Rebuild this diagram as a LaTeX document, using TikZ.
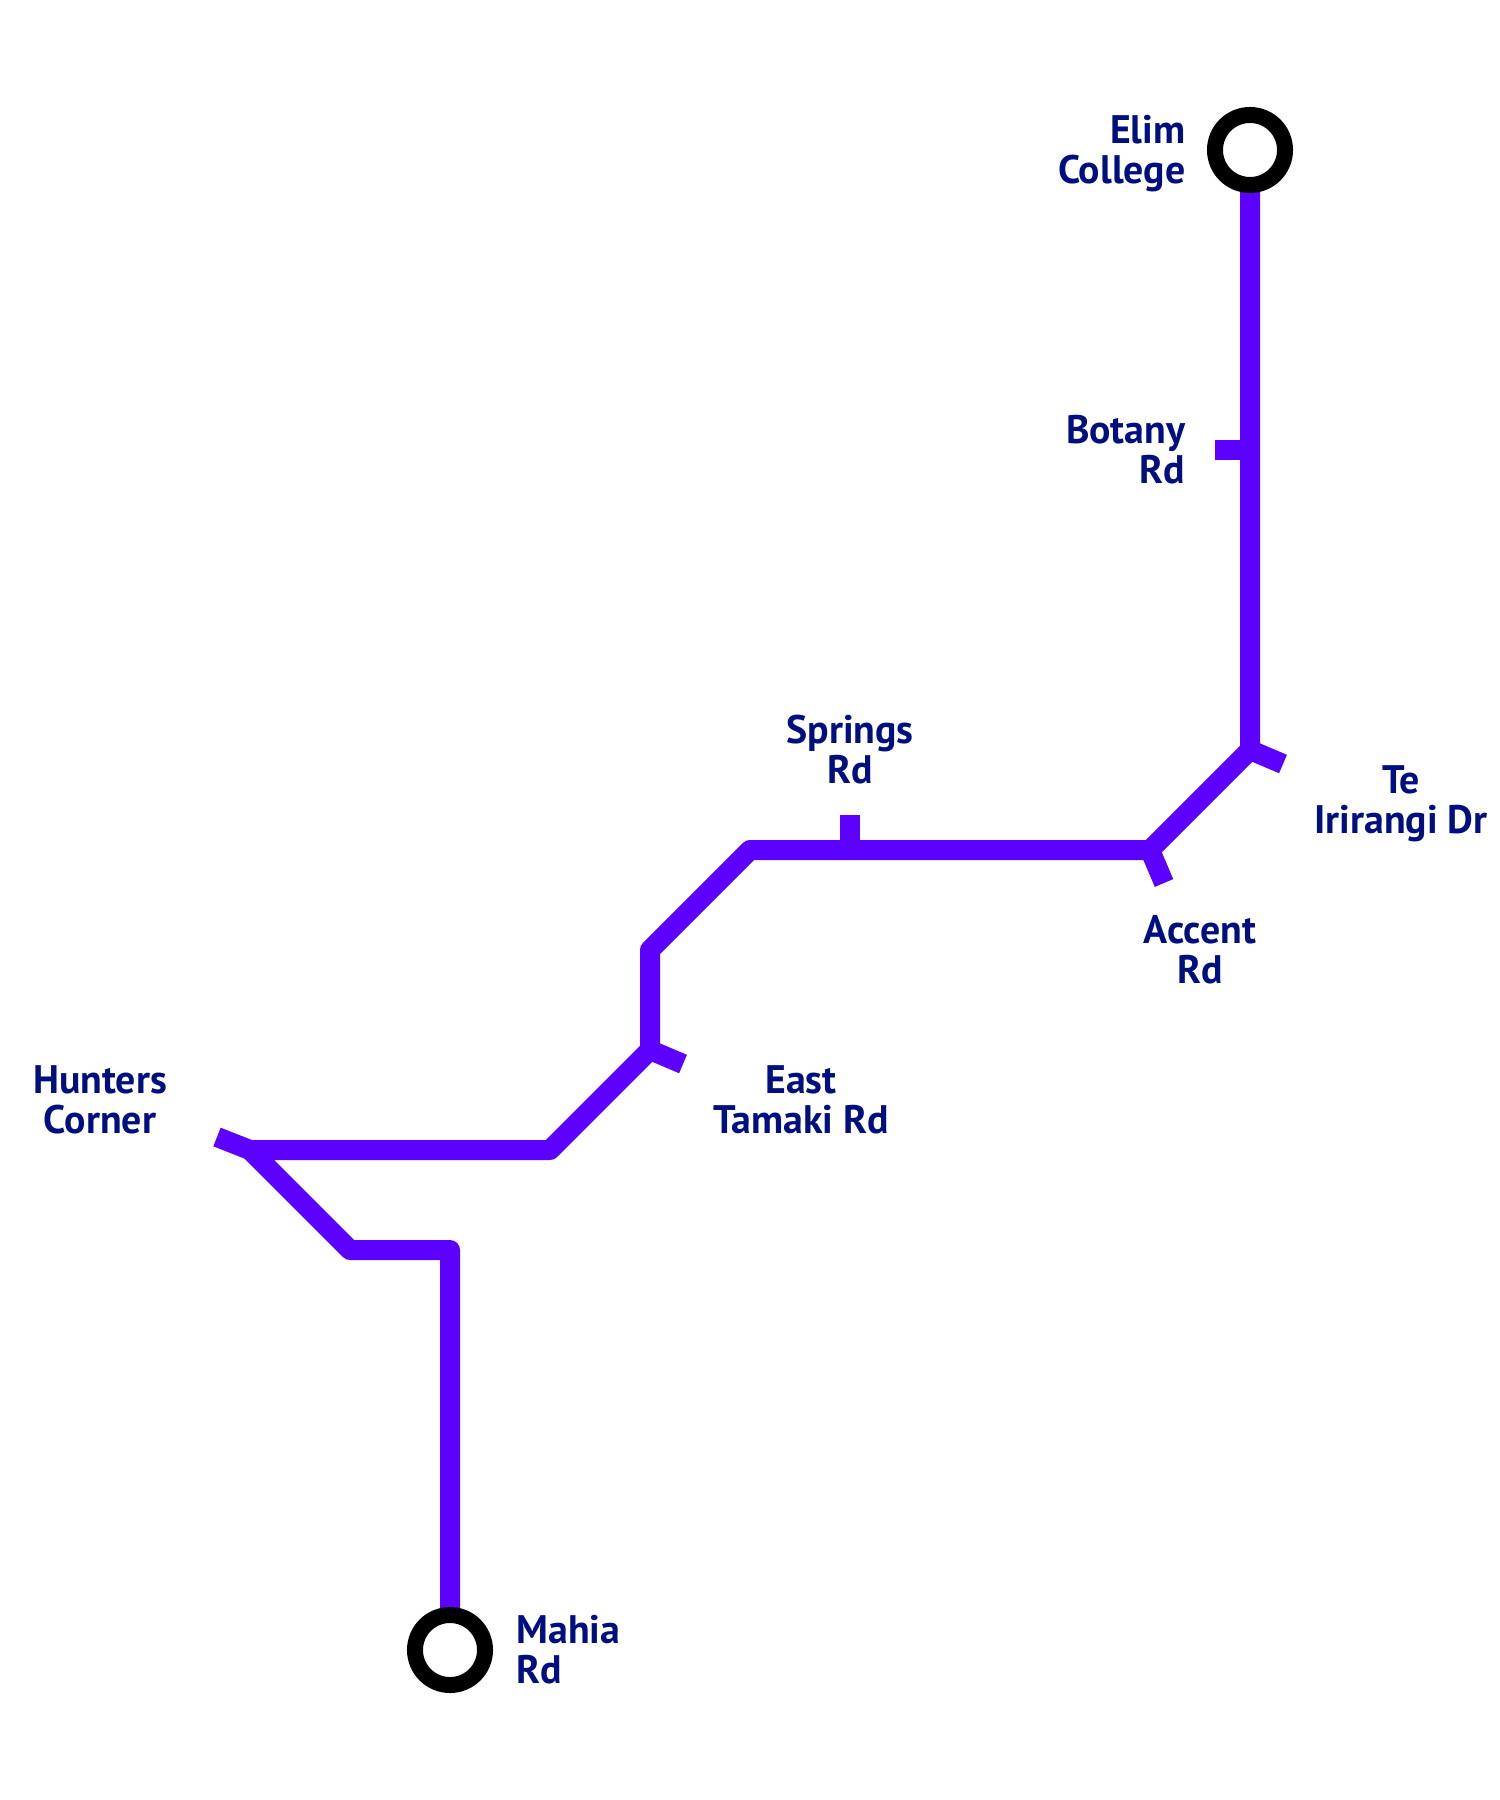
\documentclass[tikz,border=0pt]{standalone}
\usepackage{fontspec}
\usetikzlibrary{backgrounds}
\setmainfont{PT Sans}
\definecolor{linecol}{HTML}{5C00FF}
\definecolor{labelcol}{HTML}{000F80}

\begin{document}
\begin{tikzpicture}[x=0.01cm,y=-0.01cm,
  route/.style={line width=0.2cm,linecol,line join=round},
  term/.style={circle,draw=black,fill=white,line width=0.16cm,minimum size=0.7cm,inner sep=0pt,outer sep=0pt},
  lab/.style={text=labelcol,inner sep=0pt,font=\fontsize{11.32}{11.1}\selectfont\bfseries}]
  \useasboundingbox (0,0) rectangle (1500,1800);
  \coordinate (botany) at (1250,450);
  \coordinate (te) at (1250,750);
  \coordinate (accent) at (1150,850);
  \coordinate (b1) at (750,850);
  \coordinate (springs) at (850,850);
  \coordinate (b2) at (650,950);
  \coordinate (east) at (650,1050);
  \coordinate (b3) at (550,1150);
  \coordinate (hunters) at (250,1150);
  \coordinate (b4) at (350,1250);
  \coordinate (b5) at (450,1250);
  \coordinate (botanyend) at (1215,450);
  \coordinate (teend) at (1283,764);
  \coordinate (accentend) at (1164,883);
  \coordinate (springsend) at (850,815);
  \coordinate (eastend) at (683,1064);
  \coordinate (huntersend) at (217,1137);
  \node[term](elim) at (1250,150){};
  \node[term](mahia) at (450,1650){};
  \begin{scope}[on background layer]
    \draw[route](elim.south)--(te)--(accent)--(b1)--(b2)--(east)--(b3)--(hunters)--(b4)--(b5)--(mahia.north);
    \foreach \x/\y in {botany/botanyend,te/teend,accent/accentend,springs/springsend,east/eastend,hunters/huntersend}{\draw[route](\x)--(\y);}
  \end{scope}
  \node[lab,align=right,anchor=base east](elimlab) at (1186,183){Elim\\College};
  \node[lab,align=right,anchor=base east](botanylab) at (1186,483){Botany\\Rd};
  \node[lab,align=center,anchor=base](telab) at (1401,833){Te\\Irirangi Dr};
  \node[lab,align=center,anchor=base](accentlab) at (1200,983){Accent\\Rd};
  \node[lab,align=center,anchor=base](springslab) at (850,783){Springs\\Rd};
  \node[lab,align=center,anchor=base](eastlab) at (801,1133){East\\Tamaki Rd};
  \node[lab,align=center,anchor=base](hunterslab) at (100,1133){Hunters\\Corner};
  \node[lab,align=left,anchor=base west](mahialab) at (516,1683){Mahia\\Rd};
\end{tikzpicture}
\end{document}
